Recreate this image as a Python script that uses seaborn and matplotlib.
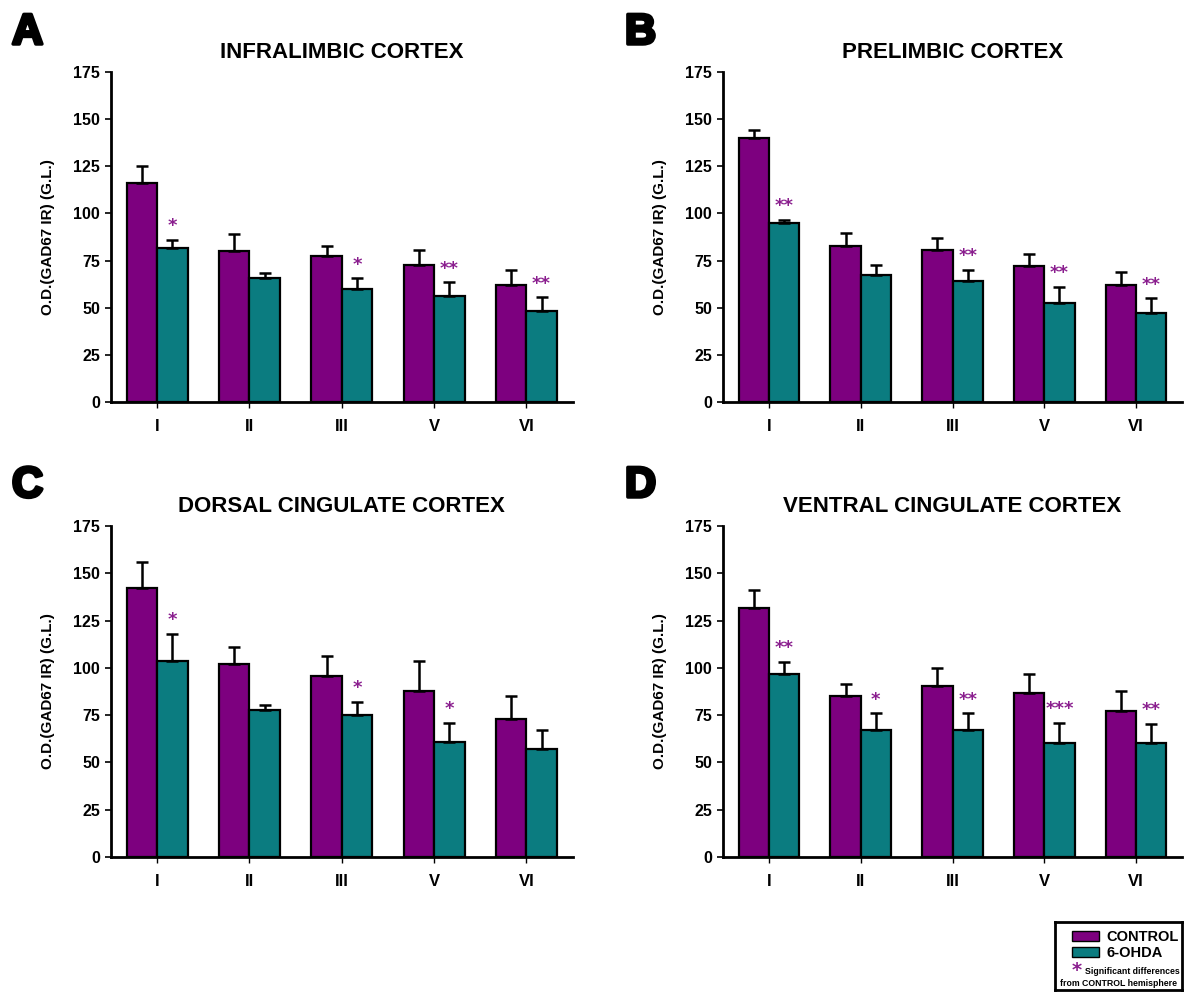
import numpy as np
import pandas as pd
import matplotlib
matplotlib.use("Agg")
import matplotlib.pyplot as plt
import matplotlib.patheffects as pe
import seaborn as sns
from matplotlib.patches import Patch

sns.set_theme(style="white")
plt.rcParams['font.family'] = ['Liberation Sans', 'DejaVu Sans']
plt.rcParams['text.color'] = 'black'
plt.rcParams['axes.labelcolor'] = 'black'
plt.rcParams['xtick.color'] = 'black'
plt.rcParams['ytick.color'] = 'black'

layers = ["I", "II", "III", "V", "VI"]
groups = ["CONTROL", "6-OHDA"]
titles = ["INFRALIMBIC CORTEX", "PRELIMBIC CORTEX",
          "DORSAL CINGULATE CORTEX", "VENTRAL CINGULATE CORTEX"]
letters = ["A", "B", "C", "D"]

# means and SEM per panel
ctrl_mean = [[116, 80, 77.5, 72.5, 62],
             [140, 82.5, 80.5, 72, 62],
             [142, 102, 95.5, 88, 73],
             [131.5, 85, 90.5, 86.5, 77]]
ctrl_err = [[9, 9, 5, 8, 8],
            [4.5, 7, 6.5, 6.5, 7],
            [14, 9, 11, 15.5, 12],
            [9.5, 6.5, 9.5, 10.5, 11]]
ohda_mean = [[81.5, 66, 60, 56, 48],
             [95, 67.5, 64, 52.5, 47],
             [103.5, 77.5, 75, 61, 57],
             [96.5, 67, 67, 60.5, 60.5]]
ohda_err = [[4.5, 2.5, 5.5, 7.5, 7.5],
            [1.5, 5, 6, 8.5, 8],
            [14.5, 3, 7, 10, 10],
            [6.5, 9, 9, 10.5, 10]]
stars = [["*", "", "*", "**", "**"],
         ["**", "", "**", "**", "**"],
         ["*", "", "*", "*", ""],
         ["**", "*", "**", "***", "**"]]

PURPLE = "#7D007F"
TEAL = "#0B7C80"
STAR = "#8A1E8E"

W, H = 1185, 992
fig = plt.figure(figsize=(W / 100, H / 100), dpi=100)

# axes positions in pixels: left, top, right, bottom
boxes = [(111, 72, 572.5, 402), (723, 72, 1182, 402),
         (111, 526, 572.5, 857), (723, 526, 1182, 857)]
letter_pos = [(12, 13), (625, 13), (12, 466), (625, 466)]

for k in range(4):
    l, t, r, b = boxes[k]
    ax = fig.add_axes([l / W, 1 - b / H, (r - l) / W, (b - t) / H])
    df = pd.DataFrame({
        "layer": layers * 2,
        "group": [groups[0]] * 5 + [groups[1]] * 5,
        "value": ctrl_mean[k] + ohda_mean[k],
    })
    sns.barplot(data=df, x="layer", y="value", hue="group", order=layers,
                hue_order=groups, palette=[PURPLE, TEAL], width=0.66,
                saturation=1, errorbar=None, edgecolor="black",
                linewidth=1.6, legend=False, ax=ax)
    errs = ctrl_err[k] + ohda_err[k]
    vals = ctrl_mean[k] + ohda_mean[k]
    bars = ax.patches[:10]
    for i, p in enumerate(bars):
        xc = p.get_x() + p.get_width() / 2
        ax.errorbar(xc, vals[i], yerr=[[0], [errs[i]]], fmt="none",
                    ecolor="black", elinewidth=1.8, capsize=4.5,
                    capthick=1.8, zorder=1)
        if i >= 5:
            s = stars[k][i - 5]
            if s:
                ax.text(xc, vals[i] + errs[i] + 2.5, s, ha="center",
                        va="bottom", color=STAR, fontsize=13,
                        fontweight="bold", family="DejaVu Sans")
    ax.set_ylim(0, 175)
    ax.set_xlim(-0.5, 4.5)
    ax.set_yticks(np.arange(0, 176, 25))
    ax.set_xlabel("")
    ax.set_ylabel("O.D.(GAD67 IR) (G.L.)", fontsize=11, fontweight="bold")
    ax.yaxis.set_label_coords(-56 / (r - l), 0.5)
    for sp in ["top", "right"]:
        ax.spines[sp].set_visible(False)
    for sp in ["left", "bottom"]:
        ax.spines[sp].set_linewidth(2)
        ax.spines[sp].set_color("black")
    ax.tick_params(axis="y", direction="out", length=4, width=1.2,
                   labelsize=11.5, pad=4, left=True, colors="black")
    ax.tick_params(axis="x", direction="out", length=4, width=1,
                   labelsize=12, pad=8, bottom=True, colors="black")
    for lab in ax.get_xticklabels() + ax.get_yticklabels():
        lab.set_fontweight("bold")
    ax.text(0.5, 1 + 20 / (b - t), titles[k], transform=ax.transAxes,
            ha="center", va="center", fontsize=16, fontweight="bold",
            color="black")
    lx, ly = letter_pos[k]
    fig.text(lx / W, 1 - ly / H, letters[k], ha="left", va="top",
             fontsize=31, fontweight="heavy", color="black",
             path_effects=[pe.withStroke(linewidth=2.5, foreground="black")])

# legend box
lax = fig.add_axes([1055 / W, 1 - 990 / H, 127 / W, 68 / H])
lax.set_xticks([])
lax.set_yticks([])
lax.set_facecolor("white")
for sp in lax.spines.values():
    sp.set_linewidth(2)
    sp.set_color("black")
handles = [Patch(facecolor=PURPLE, edgecolor="black", label="CONTROL"),
           Patch(facecolor=TEAL, edgecolor="black", label="6-OHDA")]
leg = lax.legend(handles=handles, loc="upper left", frameon=False,
                 bbox_to_anchor=(0.03, 1.07), handlelength=1.85,
                 handleheight=0.65, labelspacing=0.12, handletextpad=0.5,
                 borderpad=0.4, prop={"weight": "bold", "size": 10.5})
lax.text(0.17, 0.29, "*", transform=lax.transAxes, color=STAR,
         fontsize=14, fontweight="bold", ha="center", va="center",
         family="DejaVu Sans")
lax.text(0.98, 0.27, "Significant differences", transform=lax.transAxes,
         fontsize=6.3, fontweight="bold", ha="right", va="center")
lax.text(0.5, 0.1, "from CONTROL hemisphere", transform=lax.transAxes,
         fontsize=6.3, fontweight="bold", ha="center", va="center")

fig.savefig("out.png", dpi=100)
